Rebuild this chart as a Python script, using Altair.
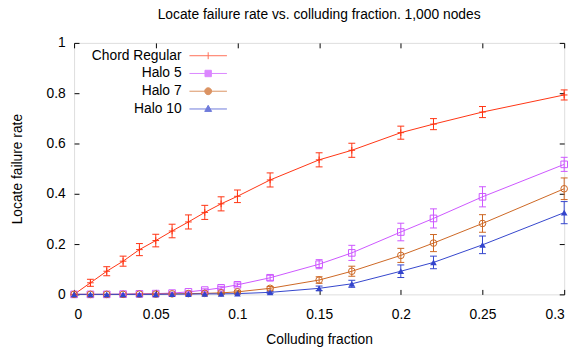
import altair as alt
import pandas as pd

# ---- data ----
xs = [0, 0.01, 0.02, 0.03, 0.04, 0.05, 0.06, 0.07, 0.08, 0.09, 0.10, 0.12, 0.15, 0.17, 0.20, 0.22, 0.25, 0.30]

series_names = ["Chord Regular", "Halo 5", "Halo 7", "Halo 10"]

chord = [0.0, 0.046, 0.092, 0.132, 0.178, 0.214, 0.252, 0.288, 0.326, 0.36, 0.39, 0.455, 0.535, 0.573, 0.643, 0.677, 0.725, 0.793]
chord_err = [0.0, 0.014, 0.018, 0.02, 0.024, 0.025, 0.027, 0.028, 0.028, 0.028, 0.025, 0.028, 0.028, 0.028, 0.026, 0.022, 0.022, 0.02]

halo5 = [0.0, 0.0, 0.0, 0.001, 0.002, 0.003, 0.005, 0.01, 0.017, 0.026, 0.038, 0.066, 0.12, 0.165, 0.248, 0.302, 0.388, 0.517]
halo5_err = [0.0, 0.0, 0.0, 0.001, 0.001, 0.002, 0.003, 0.004, 0.005, 0.006, 0.007, 0.01, 0.018, 0.03, 0.035, 0.038, 0.04, 0.028]

halo7 = [0.0, 0.0, 0.0, 0.0, 0.001, 0.001, 0.002, 0.003, 0.004, 0.006, 0.01, 0.024, 0.057, 0.092, 0.155, 0.204, 0.282, 0.42]
halo7_err = [0.0, 0.0, 0.0, 0.0, 0.0, 0.001, 0.001, 0.002, 0.002, 0.003, 0.004, 0.007, 0.013, 0.02, 0.028, 0.034, 0.035, 0.043]

halo10 = [0.0, 0.0, 0.0, 0.0, 0.0, 0.0, 0.001, 0.001, 0.002, 0.002, 0.003, 0.008, 0.024, 0.042, 0.092, 0.127, 0.197, 0.325]
halo10_err = [0.0, 0.0, 0.0, 0.0, 0.0, 0.0, 0.0, 0.001, 0.001, 0.001, 0.002, 0.004, 0.009, 0.014, 0.025, 0.025, 0.035, 0.044]

x_ticks = [0, 0.05, 0.1, 0.15, 0.2, 0.25, 0.3]
y_ticks = [0, 0.2, 0.4, 0.6, 0.8, 1]

colors = ["#ff3311", "#cc55ff", "#cc6622", "#3344cc"]
point_shapes = ["M-1,0H1M0,-1V1", "square", "circle", "triangle-up"]
point_filled = [False, False, False, True]
legend_shapes = [
    "M-3.8,0H3.8M0,-0.7V0.7",
    "M-3.8,0H3.8M-0.65,-0.65H0.65V0.65H-0.65Z",
    "M-3.8,0H3.8M0.7,0A0.7,0.7,0,1,1,-0.7,0A0.7,0.7,0,1,1,0.7,0Z",
    "M-3.8,0H3.8M0,-0.75L0.7,0.5H-0.7Z",
]

FONT = "Liberation Sans"

rows = []
for name, ys, es in zip(series_names, [chord, halo5, halo7, halo10],
                        [chord_err, halo5_err, halo7_err, halo10_err]):
    for x, y, e in zip(xs, ys, es):
        rows.append({"series": name, "x": x, "y": y, "err": e,
                     "lo": max(y - e, 0.0), "hi": y + e})
df = pd.DataFrame(rows)

W, H = 497, 255
xscale = alt.Scale(domain=[0, 0.3], nice=False, zero=False)
yscale = alt.Scale(domain=[0, 1], nice=False)
cscale = alt.Scale(domain=series_names, range=colors)

base = alt.Chart(df)

# inward tick marks on all four edges are drawn as dashed grid lines
x_axis = alt.Axis(values=x_ticks, format="~g", orient="bottom",
                  ticks=False, domain=False, grid=True,
                  gridDash=[5, H - 10, 5], gridColor="black", gridOpacity=1, gridWidth=1,
                  labelPadding=13, labelFontSize=14, labelFont=FONT, labelColor="black",
                  title="Colluding fraction",
                  titleFont=FONT, titleFontSize=14, titleFontWeight="normal",
                  titleColor="black", titlePadding=12)
y_axis = alt.Axis(values=y_ticks, format="~g", orient="left",
                  ticks=False, domain=False, grid=True,
                  gridDash=[5, W - 10, 5], gridColor="black", gridOpacity=1, gridWidth=1,
                  labelPadding=9, labelFontSize=14, labelFont=FONT, labelColor="black",
                  title="Locate failure rate",
                  titleFont=FONT, titleFontSize=14, titleFontWeight="normal",
                  titleColor="black", titlePadding=22)

X = alt.X("x:Q", scale=xscale, axis=x_axis)
color_nolegend = alt.Color("series:N", scale=cscale, legend=None)

leg = alt.Legend(orient="none", legendX=129, legendY=6, title=None,
                 labelAlign="right", labelOffset={"expr": "-34"}, symbolSize=100,
                 symbolStrokeWidth=1, symbolFillColor="transparent",
                 labelFontSize=14, labelFont=FONT,
                 labelColor="black", rowPadding=4, padding=0)

# legend layer first, so its legend settings win when layers are merged
legend_layer = base.transform_filter("datum.x < 0").transform_calculate(
    lg="datum.series"
).mark_point(filled=False).encode(
    x=X,
    y=alt.Y("y:Q", scale=yscale, axis=y_axis),
    color=alt.Color("lg:N", scale=cscale, legend=leg),
    shape=alt.Shape("lg:N", scale=alt.Scale(domain=series_names, range=legend_shapes), legend=leg),
    fill=alt.value("transparent"),
)

line = base.mark_line(strokeWidth=1).encode(
    x=X,
    y=alt.Y("y:Q", scale=yscale, axis=y_axis),
    color=color_nolegend,
)

eb = base.transform_filter("datum.hi > datum.lo")
rules = eb.mark_rule(strokeWidth=1).encode(
    x=X,
    y=alt.Y("lo:Q", scale=yscale, axis=y_axis),
    y2="hi:Q",
    color=color_nolegend,
)
cap_hi = eb.mark_point(shape="M-1,0H1", size=49, strokeWidth=1, filled=False, opacity=1).encode(
    x=X,
    y=alt.Y("hi:Q", scale=yscale, axis=y_axis),
    color=color_nolegend,
)
cap_lo = eb.mark_point(shape="M-1,0H1", size=49, strokeWidth=1, filled=False, opacity=1).encode(
    x=X,
    y=alt.Y("lo:Q", scale=yscale, axis=y_axis),
    color=color_nolegend,
)

point_layers = []
for name, shp, fil in zip(series_names, point_shapes, point_filled):
    point_layers.append(
        base.transform_filter(alt.datum.series == name)
        .mark_point(shape=shp, filled=fil, size=45, strokeWidth=1, opacity=1)
        .encode(
            x=X,
            y=alt.Y("y:Q", scale=yscale, axis=y_axis),
            color=color_nolegend,
        )
    )

chart = alt.layer(legend_layer, line, rules, cap_hi, cap_lo, *point_layers).properties(
    width=W,
    height=H,
    autosize=alt.AutoSizeParams(type="none"),
    padding={"left": 67, "top": 33, "right": 13, "bottom": 53},
    title=alt.TitleParams("Locate failure rate vs. colluding fraction. 1,000 nodes",
                          font=FONT, fontSize=14, fontWeight="normal",
                          color="black", anchor="middle", offset=14),
).configure_view(stroke="black", strokeWidth=1).configure(background="white")

chart.save("out.html", embed_options={"renderer": "svg", "actions": False})
